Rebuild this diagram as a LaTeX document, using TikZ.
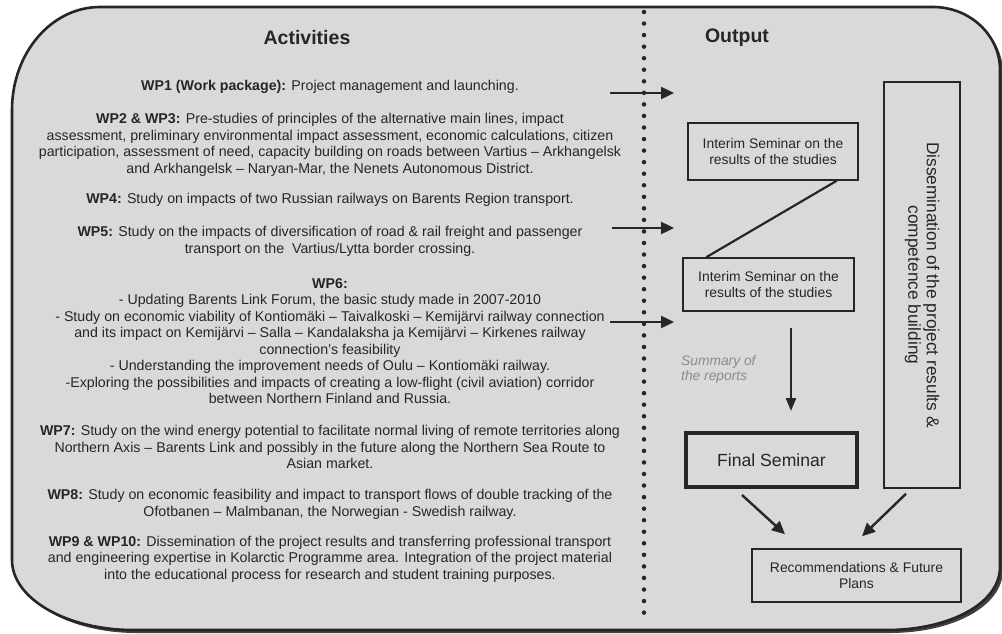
\documentclass[tikz,border=0pt]{standalone}
\usepackage{fontspec}
\setmainfont{Liberation Sans}
\usetikzlibrary{arrows.meta,calc}
\definecolor{framefill}{HTML}{D9D9D9}
\definecolor{ink}{HTML}{262626}
\definecolor{sumgray}{HTML}{8C8C8C}
\begin{document}
\begin{tikzpicture}[x=1pt,y=-1pt,
  wp/.style={align=center, text=ink, font=\fontsize{14.2}{16.5}\selectfont, inner sep=0pt},
  head/.style={text=ink, font=\fontsize{19.5}{22}\selectfont\bfseries, inner sep=0pt},
  box/.style={draw=ink, line width=1.5pt, align=center, text=ink, inner sep=0pt,
              font=\fontsize{13.9}{15.5}\selectfont},
  arr/.style={draw=ink, line width=2.4pt, -{Triangle[length=13pt,width=12pt]}},
  link/.style={draw=ink, line width=2.2pt}]
\useasboundingbox (0,0) rectangle (1002,634);
\fill[white] (0,0) rectangle (1002,634);
% shadow
\fill[black!75, shift={(3,3)}] (100,7) -- (933,7) .. controls (970,7) and (1000,35.2) .. (1000,70)
  -- (1000,567) .. controls (1000,603.5) and (949.4,630) .. (887,630)
  -- (133,630) .. controls (66.7,630) and (12,598.7) .. (12,560)
  -- (12,110) .. controls (12,53) and (51.4,7) .. (100,7) -- cycle;
% frame
\draw[fill=framefill, draw=ink, line width=2.6pt] (100,7) -- (933,7) .. controls (970,7) and (1000,35.2) .. (1000,70)
  -- (1000,567) .. controls (1000,603.5) and (949.4,630) .. (887,630)
  -- (133,630) .. controls (66.7,630) and (12,598.7) .. (12,560)
  -- (12,110) .. controls (12,53) and (51.4,7) .. (100,7) -- cycle;
% dotted divider
\coordinate (dtop) at (644,12);
\coordinate (dbot) at (644,620);
\draw[ink, line width=4.5pt, line cap=round, dash pattern=on 0pt off 11.55pt] (dtop) -- (dbot);
% headers
\node[head] (hact) at (307,38) {Activities};
\node[head] (hout) at (737,38) {Output};
% activities
\node[wp] (wp1) at (330,87) {\textbf{WP1 (Work package):} Project management and launching.};
\node[wp] (wp2) at (330,145) {\textbf{WP2 \& WP3:} Pre-studies of principles of the alternative main lines, impact\\
assessment, preliminary environmental impact assessment, economic calculations, citizen\\
participation, assessment of need, capacity building on roads between Vartius – Arkhangelsk\\
and Arkhangelsk – Naryan-Mar, the Nenets Autonomous District.};
\node[wp] (wp4) at (330,200) {\textbf{WP4:} Study on impacts of two Russian railways on Barents Region transport.};
\node[wp] (wp5) at (330,241.5) {\textbf{WP5:} Study on the impacts of diversification of road \& rail freight and passenger\\
transport on the \ Vartius/Lytta border crossing.};
\node[wp] (wp6) at (330,341) {\textbf{WP6:}\\
- Updating Barents Link Forum, the basic study made in 2007-2010\\
- Study on economic viability of Kontiomäki – Taivalkoski – Kemijärvi railway connection\\
and its impact on Kemijärvi – Salla – Kandalaksha ja Kemijärvi – Kirkenes railway\\
connection’s feasibility\\
- Understanding the improvement needs of Oulu – Kontiomäki railway.\\
-Exploring the possibilities and impacts of creating a low-flight (civil aviation) corridor\\
between Northern Finland and Russia.};
\node[wp] (wp7) at (330,447) {\textbf{WP7:} Study on the wind energy potential to facilitate normal living of remote territories along\\
Northern Axis – Barents Link and possibly in the future along the Northern Sea Route to\\
Asian market.};
\node[wp] (wp8) at (330,504.5) {\textbf{WP8:} Study on economic feasibility and impact to transport flows of double tracking of the\\
Ofotbanen – Malmbanan, the Norwegian - Swedish railway.};
\node[wp] (wp9) at (330,559) {\textbf{WP9 \& WP10:} Dissemination of the project results and transferring professional transport\\
and engineering expertise in Kolarctic Programme area. Integration of the project material\\
into the educational process for research and student training purposes.};
% arrows across divider
\coordinate (a1s) at (610,93);  \coordinate (a1e) at (674,93);
\coordinate (a2s) at (612,228); \coordinate (a2e) at (674,228);
\coordinate (a3s) at (610,322); \coordinate (a3e) at (674,322);
\draw[arr] (a1s) -- (a1e);
\draw[arr] (a2s) -- (a2e);
\draw[arr] (a3s) -- (a3e);
% output boxes
\node[box, minimum width=170pt, minimum height=57pt] (i1) at (773,151.5) {Interim Seminar on the\\results of the studies};
\node[box, minimum width=171pt, minimum height=53pt] (i2) at (768.5,284.5) {Interim Seminar on the\\results of the studies};
\node[box, minimum width=76pt, minimum height=406pt] (dis) at (922,285) {};
\node[text=ink, rotate=-90, align=center, inner sep=0pt, font=\fontsize{17.3}{18.5}\selectfont] (distext) at (dis.center) {Dissemination of the project results \&\\competence building};
\node[box, line width=4pt, minimum width=171pt, minimum height=54pt, font=\fontsize{17.6}{20}\selectfont] (fin) at (771.5,460) {Final Seminar};
\node[box, minimum width=209pt, minimum height=53pt] (rec) at (856.5,575.5) {Recommendations \& Future\\Plans};
\node[text=sumgray, align=left, inner sep=0pt, anchor=west, font=\fontsize{13.8}{15}\selectfont\itshape] (sum) at (681,369.5) {Summary of\\the reports};
% connectors
\draw[link] ($(i1.south east)+(-22,0)$) -- ($(i2.north west)+(24,0)$);
\draw[arr, -{Triangle[length=13pt,width=10pt]}] ($(i2.south)+(22.5,16)$) -- ($(fin.north)+(19.5,-20)$);
\draw[arr] ($(fin.south)+(-29.5,6)$) -- ($(rec.north)+(-71.5,-14)$);
\draw[arr] ($(dis.south)+(-16,5)$) -- ($(rec.north)+(5.5,-12)$);
\end{tikzpicture}
\end{document}
